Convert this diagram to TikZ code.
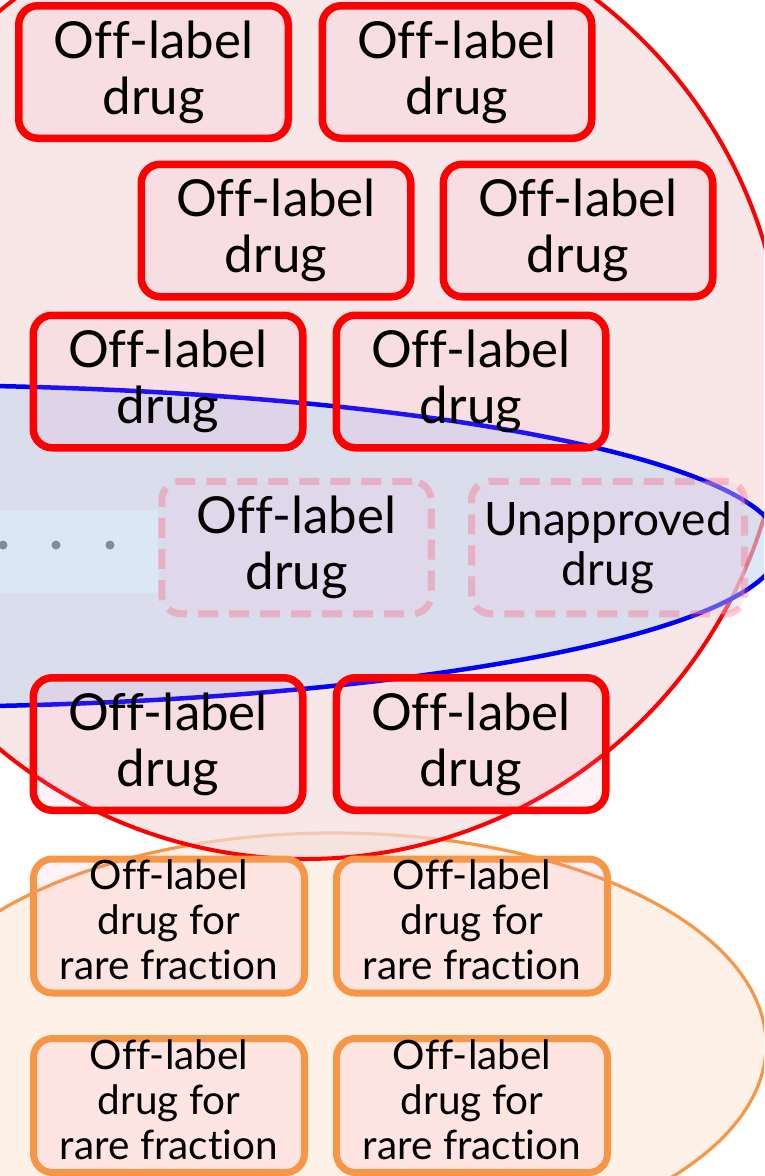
\documentclass[tikz,border=0pt]{standalone}
\usepackage{fontspec}
\setmainfont{Lato}[Ligatures=NoCommon]
\definecolor{circfill}{RGB}{244,221,221}
\definecolor{bandfill}{RGB}{197,216,241}
\definecolor{bandline}{RGB}{0,0,255}
\definecolor{orfill}{RGB}{254,241,231}
\definecolor{orline}{RGB}{247,150,70}
\definecolor{boxfill}{RGB}{255,150,190}
\definecolor{ghostline}{RGB}{255,80,110}
\definecolor{ghostfill}{RGB}{235,210,230}
\definecolor{dotgray}{RGB}{128,140,152}
\tikzset{
  drugbox/.style={draw=red, line width=7.5pt, rounded corners=19pt,
    fill=boxfill, fill opacity=0.12, text opacity=1,
    minimum width=269.5pt, minimum height=132.5pt, inner sep=0pt,
    align=center, font=\fontsize{51}{56}\selectfont},
  ghostbox/.style={drugbox, draw=ghostline, draw opacity=0.3,
    fill=ghostfill, fill opacity=0.4, text opacity=1,
    line width=7pt, dash pattern=on 20pt off 11pt},
  rarebox/.style={drugbox, draw=orline, line width=7pt,
    minimum width=271pt, minimum height=134pt,
    font=\fontsize{40.5}{45}\selectfont, text depth=12pt},
  ghostdot/.style={fill=dotgray, draw=none}
}
\begin{document}
\begin{tikzpicture}[x=1pt, y=-1pt]
\useasboundingbox (0,0) rectangle (764,1176);
\clip (0,0) rectangle (764,1176);

% rare-fraction population
\draw[fill=orfill, draw=orline, line width=3.2pt]
  (334,1045) ellipse [x radius=432, y radius=212];

% off-label population
\fill[circfill, fill opacity=0.7] (305,380) ellipse [x radius=479, y radius=479];
\draw[red, line width=4pt] (305,380) ellipse [x radius=479, y radius=479];

% light gap along the band
\fill[white] (0,510) rectangle (158,593);

% band of the target population
\fill[bandfill, fill opacity=0.6] (-105,546) ellipse [x radius=885, y radius=161];
\draw[bandline, line width=4.5pt] (-105,546) ellipse [x radius=885, y radius=161];

% ellipsis dots
\fill[ghostdot] (3,545) circle [radius=4.5];
\fill[ghostdot] (56,545) circle [radius=4.5];
\fill[ghostdot] (110,545) circle [radius=4.5];

% off-label drugs
\node[drugbox] (a) at (153.5,72) {Off-label\\drug};
\node[drugbox] (b) at (457,72) {Off-label\\drug};
\node[drugbox] (c) at (276,230.5) {Off-label\\drug};
\node[drugbox] (d) at (578,230.5) {Off-label\\drug};
\node[drugbox] (e) at (168,381.5) {Off-label\\drug};
\node[drugbox] (f) at (471,381.5) {Off-label\\drug};
\node[drugbox] (i) at (168,744) {Off-label\\drug};
\node[drugbox] (j) at (471,744) {Off-label\\drug};

% candidates inside the band
\node[ghostbox] (g) at (296.5,547.5) {Off-label\\drug};
\node[ghostbox, minimum width=273pt, font=\fontsize{46}{50}\selectfont] (h) at (608,547.5) {Unapproved\\drug};

% rare-fraction drugs
\node[rarebox] (k) at (169,926) {Off-label\\drug for\\rare fraction};
\node[rarebox] (l) at (472,926) {Off-label\\drug for\\rare fraction};
\node[rarebox] (m) at (169,1105.5) {Off-label\\drug for\\rare fraction};
\node[rarebox] (n) at (472,1105.5) {Off-label\\drug for\\rare fraction};
\end{tikzpicture}
\end{document}
